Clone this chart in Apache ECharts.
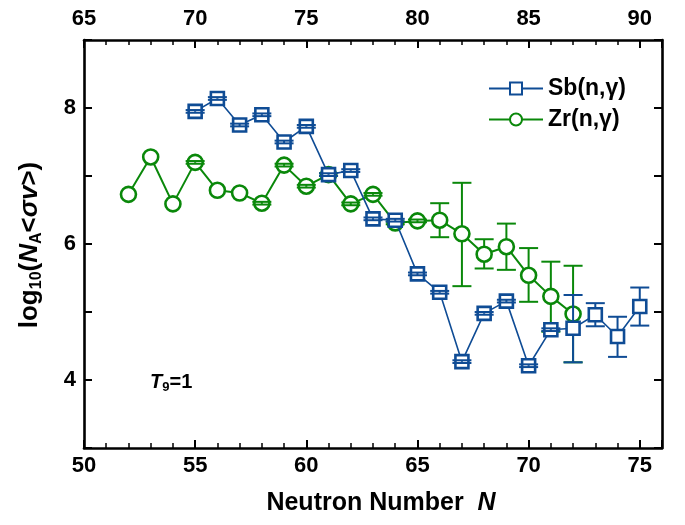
<!DOCTYPE html>
<html>
<head>
<meta charset="utf-8">
<script src="https://cdn.jsdelivr.net/npm/echarts@6/dist/echarts.min.js"></script>
<style>
  html, body { margin: 0; padding: 0; background: #fff; }
  #chart { width: 685px; height: 525px; }
</style>
</head>
<body>
<div id="chart"></div>
<script>
const FONT = 'Arial, "Liberation Sans", Helvetica, sans-serif';
const BLUE = '#0f4c95';
const GREEN = '#0a880a';

// Sb(n,γ): log10 of the reaction rate at T9 = 1, with lower/upper bounds
const sbN    = [55, 56, 57, 58, 59, 60, 61, 62, 63, 64, 65, 66, 67, 68, 69, 70, 71, 72, 73, 74, 75];
const sbRate = [7.95, 8.14, 7.75, 7.90, 7.50, 7.73, 7.02, 7.08, 6.37, 6.35, 5.56, 5.29, 4.27, 4.98, 5.16, 4.21, 4.74, 4.76, 4.96, 4.64, 5.08];
const sbLow  = [7.93, 8.12, 7.73, 7.88, 7.48, 7.71, 7.00, 7.06, 6.35, 6.33, 5.54, 5.27, 4.25, 4.96, 5.14, 4.19, 4.72, 4.26, 4.79, 4.34, 4.80];
const sbHigh = [7.97, 8.16, 7.77, 7.92, 7.52, 7.75, 7.04, 7.10, 6.39, 6.37, 5.58, 5.31, 4.29, 5.00, 5.18, 4.23, 4.76, 5.25, 5.13, 4.93, 5.36];

// Zr(n,γ): log10 of the reaction rate at T9 = 1 (null = no error bar)
const zrN    = [52, 53, 54, 55, 56, 57, 58, 59, 60, 61, 62, 63, 64, 65, 66, 67, 68, 69, 70, 71, 72];
const zrRate = [6.73, 7.28, 6.59, 7.20, 6.79, 6.75, 6.60, 7.16, 6.85, 7.02, 6.59, 6.73, 6.31, 6.34, 6.35, 6.15, 5.85, 5.96, 5.54, 5.23, 4.97];
const zrLow  = [null, null, null, 7.18, null, null, 6.58, 7.14, 6.83, 7.00, 6.57, 6.71, 6.29, 6.32, 6.10, 5.38, 5.64, 5.62, 5.15, 4.71, 4.26];
const zrHigh = [null, null, null, 7.22, null, null, 6.62, 7.18, 6.87, 7.04, 6.61, 6.75, 6.33, 6.36, 6.60, 6.90, 6.07, 6.30, 5.94, 5.74, 5.68];

// Axis ranges and tick labels
const nRange = [50, 76];          // neutron number (bottom axis)
const zOffset = 15;               // top axis = bottom axis + 15
const rateRange = [3, 9];
const rateLabels = [4, 6, 8];

const pairs = (xs, ys) => xs.map((x, i) => [x, ys[i]]);

// Error bars: vertical line skipped inside the symbol, caps at both ends
function errorBars(xs, vals, lows, highs, color, half, z) {
  const data = [];
  xs.forEach((x, i) => {
    if (lows[i] != null) data.push([x, lows[i], highs[i], vals[i]]);
  });
  return {
    type: 'custom',
    xAxisIndex: 0,
    yAxisIndex: 0,
    z: z,
    silent: true,
    encode: { x: 0, y: [1, 2] },
    data: data,
    renderItem(params, api) {
      const x = api.value(0);
      const c = api.coord([x, api.value(3)]);
      const lo = api.coord([x, api.value(1)]);
      const hi = api.coord([x, api.value(2)]);
      const cap = 9.5;
      const style = { stroke: color, lineWidth: 2 };
      const seg = (x1, y1, x2, y2) => ({ type: 'line', shape: { x1, y1, x2, y2 }, style });
      const kids = [];
      kids.push(seg(c[0], hi[1], c[0], (c[1] - hi[1] > half) ? c[1] - half : c[1]));
      kids.push(seg(c[0], (lo[1] - c[1] > half) ? c[1] + half : c[1], c[0], lo[1]));
      kids.push(seg(c[0] - cap, hi[1], c[0] + cap, hi[1]));
      kids.push(seg(c[0] - cap, lo[1], c[0] + cap, lo[1]));
      return { type: 'group', children: kids };
    }
  };
}

const axisLine = { show: true, onZero: false, lineStyle: { color: '#000', width: 2.6 } };
const tickLabel = { color: '#000', fontSize: 22, fontWeight: 'bold', fontFamily: FONT };

const chart = echarts.init(document.getElementById('chart'), null, { renderer: 'canvas' });

chart.setOption({
  animation: false,
  backgroundColor: '#fff',
  grid: { left: 84, right: 23, top: 40, bottom: 77, containLabel: false },
  xAxis: [
    { // bottom: neutron number
      type: 'value', position: 'bottom', min: nRange[0], max: nRange[1], interval: 5,
      axisLine,
      axisTick: { show: true, inside: true, length: 8, lineStyle: { color: '#000', width: 2 } },
      axisLabel: Object.assign({ margin: 7, formatter: v => (v % 5 === 0 && v <= 75) ? String(v) : '' }, tickLabel),
      splitLine: { show: false }
    },
    { // top: shifted scale
      type: 'value', position: 'top', min: nRange[0] + zOffset, max: nRange[1] + zOffset, interval: 5,
      axisLine,
      axisTick: { show: true, inside: true, length: 8, lineStyle: { color: '#000', width: 2 } },
      axisLabel: Object.assign({ margin: 10, formatter: v => (v % 5 === 0 && v <= 90) ? String(v) : '' }, tickLabel),
      splitLine: { show: false }
    },
    { // minor ticks (placed on top)
      type: 'value', position: 'bottom', min: nRange[0], max: nRange[1], interval: 1,
      axisLine: { show: false },
      axisTick: { show: true, inside: true, length: 5, lineStyle: { color: '#000', width: 1.5 } },
      axisLabel: { show: false }, splitLine: { show: false }
    },
    { // minor ticks (placed on bottom)
      type: 'value', position: 'top', min: nRange[0], max: nRange[1], interval: 1,
      axisLine: { show: false },
      axisTick: { show: true, inside: true, length: 5, lineStyle: { color: '#000', width: 1.5 } },
      axisLabel: { show: false }, splitLine: { show: false }
    }
  ],
  yAxis: [
    {
      type: 'value', position: 'left', min: rateRange[0], max: rateRange[1], interval: 1,
      axisLine,
      axisTick: { show: true, inside: true, length: 8, lineStyle: { color: '#000', width: 2 } },
      axisLabel: Object.assign({ margin: 8, formatter: v => rateLabels.includes(v) ? String(v) : '' }, tickLabel),
      splitLine: { show: false }
    },
    {
      type: 'value', position: 'right', min: rateRange[0], max: rateRange[1], interval: 1,
      axisLine,
      axisTick: { show: true, inside: true, length: 8, lineStyle: { color: '#000', width: 2 } },
      axisLabel: { show: false },
      splitLine: { show: false }
    }
  ],
  legend: {
    data: ['Sb(n,γ)', 'Zr(n,γ)'],
    orient: 'vertical',
    left: 488,
    top: 77,
    padding: 0,
    itemWidth: 54,
    itemHeight: 15,
    itemGap: 8,
    textStyle: { color: '#000', fontSize: 23, fontWeight: 'bold', fontFamily: FONT }
  },
  series: [
    {
      name: 'Zr(n,γ)', type: 'line', xAxisIndex: 0, yAxisIndex: 0, z: 2,
      data: pairs(zrN, zrRate),
      symbol: 'circle', symbolSize: 15,
      itemStyle: { color: '#fff', borderColor: GREEN, borderWidth: 2.6 },
      lineStyle: { color: GREEN, width: 2 }
    },
    errorBars(zrN, zrRate, zrLow, zrHigh, GREEN, 7, 3),
    {
      name: 'Sb(n,γ)', type: 'line', xAxisIndex: 0, yAxisIndex: 0, z: 4,
      data: pairs(sbN, sbRate),
      symbol: 'rect', symbolSize: 13,
      itemStyle: { color: '#fff', borderColor: BLUE, borderWidth: 2.6 },
      lineStyle: { color: BLUE, width: 1.6 }
    },
    errorBars(sbN, sbRate, sbLow, sbHigh, BLUE, 6.5, 5)
  ],
  graphic: [
    {
      type: 'text', x: 30, y: 245, rotation: Math.PI / 2,
      style: {
        text: '{a|log}{s|10}{a|(}{i|N}{s|A}{a|<}{i|σv}{a|>)}',
        align: 'center', verticalAlign: 'middle', fill: '#000',
        rich: {
          a: { fontSize: 26, fontWeight: 'bold', fontFamily: FONT, lineHeight: 30, fill: '#000' },
          i: { fontSize: 26, fontWeight: 'bold', fontStyle: 'italic', fontFamily: FONT, lineHeight: 30, fill: '#000' },
          s: { fontSize: 16, fontWeight: 'bold', fontFamily: FONT, lineHeight: 15, verticalAlign: 'bottom', fill: '#000' }
        }
      }
    },
    {
      type: 'text', x: 381, y: 503,
      style: {
        text: '{a|Neutron Number  }{i|N}',
        align: 'center', verticalAlign: 'middle',
        rich: {
          a: { fontSize: 25, fontWeight: 'bold', fontFamily: FONT, fill: '#000' },
          i: { fontSize: 25, fontWeight: 'bold', fontStyle: 'italic', fontFamily: FONT, fill: '#000' }
        }
      }
    },
    {
      type: 'text', x: 150, y: 382,
      style: {
        text: '{i|T}{s|9}{a|=1}',
        align: 'left', verticalAlign: 'middle',
        rich: {
          a: { fontSize: 20, fontWeight: 'bold', fontFamily: FONT, lineHeight: 24, fill: '#000' },
          i: { fontSize: 20, fontWeight: 'bold', fontStyle: 'italic', fontFamily: FONT, lineHeight: 24, fill: '#000' },
          s: { fontSize: 13, fontWeight: 'bold', fontFamily: FONT, lineHeight: 13, verticalAlign: 'bottom', fill: '#000' }
        }
      }
    }
  ]
});
</script>
</body>
</html>
